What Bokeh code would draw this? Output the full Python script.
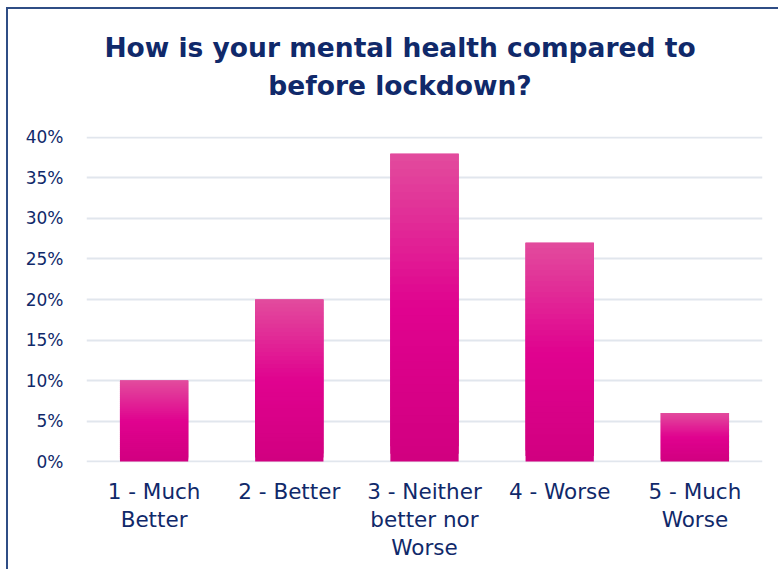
from bokeh.plotting import figure
from bokeh.models import ColumnDataSource, Div, FixedTicker, CustomJSTickFormatter, CategoricalAxis
from bokeh.layouts import column
from bokeh.embed import file_html
from bokeh.resources import INLINE

# ---- data ----
categories = ["1 - Much Better", "2 - Better", "3 - Neither better nor Worse", "4 - Worse", "5 - Much Worse"]
category_lines = [["1 - Much", "Better"], ["2 - Better"], ["3 - Neither", "better nor", "Worse"],
                  ["4 - Worse"], ["5 - Much", "Worse"]]
values = [10, 20, 38, 27, 6]
y_ticks = [0, 5, 10, 15, 20, 25, 30, 35, 40]
title_lines = ["How is your mental health compared to", "before lockdown?"]

NAVY = "#10296a"
FONT = "DejaVu Sans"

# gradient stops (fraction of bar height from bottom -> colour)
stops = [(0.0, (0xd1, 0x00, 0x80)), (0.5, (0xe0, 0x02, 0x8f)), (1.0, (0xe2, 0x4c, 0x9d))]

def grad(f):
    for (f0, c0), (f1, c1) in zip(stops[:-1], stops[1:]):
        if f0 <= f <= f1:
            t = (f - f0) / (f1 - f0)
            return "#%02x%02x%02x" % tuple(int(round(a + (b - a) * t)) for a, b in zip(c0, c1))
    return "#%02x%02x%02x" % stops[-1][1]

N = 40
xs, bottoms, tops, colors = [], [], [], []
for cat, v in zip(categories, values):
    for k in range(N):
        xs.append(cat)
        bottoms.append(v * k / N)
        tops.append(v * min(k + 3, N) / N)
        colors.append(grad((k + 0.5) / N))
src = ColumnDataSource(dict(x=xs, bottom=bottoms, top=tops, color=colors))

TITLE_H = 100
p = figure(x_range=categories, y_range=(-0.12, 40.12), width=770, height=560 - TITLE_H,
           output_backend="svg", toolbar_location=None,
           min_border_left=78, min_border_right=16, min_border_top=136 - 9 - TITLE_H,
           min_border_bottom=107)
p.margin = 0
p.outline_line_color = None
p.title.visible = False

p.vbar(x="x", bottom="bottom", top="top", width=0.505, fill_color="color",
       line_color=None, source=src)

# y axis
p.yaxis.ticker = FixedTicker(ticks=y_ticks)
p.yaxis.formatter = CustomJSTickFormatter(code="return tick + '%';")
p.yaxis.major_label_text_font_size = "17px"
p.yaxis.major_label_standoff = 23

# x axes: one per label line
p.xaxis.visible = False
max_lines = max(len(l) for l in category_lines)
standoffs = [16, 0, 0]
for i in range(max_lines):
    line_texts = [(l[i] if i < len(l) else "") for l in category_lines]
    ax = CategoricalAxis(formatter=CustomJSTickFormatter(
        args=dict(f=categories, t=line_texts),
        code="const i = f.indexOf(tick); return i >= 0 ? t[i] : '';"))
    ax.major_label_standoff = standoffs[i]
    ax.major_label_text_font_size = "21.5px"
    p.add_layout(ax, "below")

for ax in p.xaxis + p.yaxis:
    ax.axis_line_color = None
    ax.major_tick_line_color = None
    ax.minor_tick_line_color = None
    ax.major_tick_out = 0
    ax.major_tick_in = 0
    ax.major_label_text_color = NAVY
    ax.major_label_text_font = FONT

p.xgrid.grid_line_color = None
p.ygrid.grid_line_color = "#e1e6ed"
p.ygrid.grid_line_width = 2

title_html = ("<div style=\"font-family:'DejaVu Sans'; font-weight:bold; font-size:26.5px; "
              "line-height:38px; color:%s; text-align:center; padding:20px 0 0 14px; "
              "box-sizing:border-box; width:770px;\">%s</div>" % (NAVY, "<br>".join(title_lines)))
title_div = Div(text=title_html, width=770, height=TITLE_H, margin=0)

layout = column(title_div, p, spacing=0)
layout.styles = {"margin-left": "6px", "margin-top": "7px",
                 "border-left": "2px solid #2f4d85", "border-top": "2px solid #2f4d85"}

open("out.html", "w").write(file_html(layout, INLINE))
